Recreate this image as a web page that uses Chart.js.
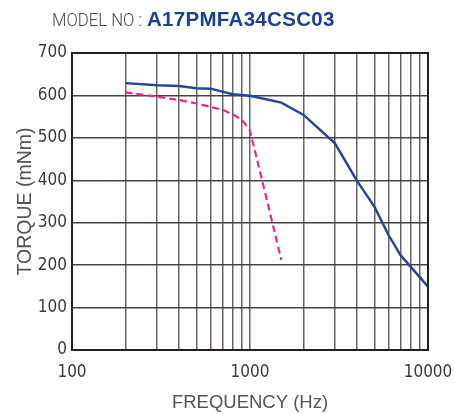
<!DOCTYPE html>
<html>
<head>
<meta charset="utf-8">
<script src="https://cdn.jsdelivr.net/npm/chart.js@4.4.1/dist/chart.umd.min.js"></script>
<style>
  html, body { margin: 0; padding: 0; background: #fff; }
  #wrap { position: relative; width: 455px; height: 414px; }
  #title { position: absolute; left: 52px; top: 7px; white-space: nowrap; }
  #title .lbl { display: inline-block; width: 95px; transform: scaleX(0.88); transform-origin: left center;
                font-family: Roboto, "Liberation Sans", sans-serif; font-weight: 300; font-size: 19px; color: #4a4a4a; }
  #title .model { font-family: "Liberation Sans", Arial, sans-serif; font-weight: bold; font-size: 20.5px;
                  letter-spacing: 0.3px; color: #1d3f96; }
</style>
</head>
<body>
<div id="wrap">
  <div id="title"><span class="lbl">MODEL NO :</span><span class="model">A17PMFA34CSC03</span></div>
  <canvas id="chart" width="455" height="414"></canvas>
</div>
<script>
// frequency (Hz) and torque (mNm)
const pullOutFreq = [200, 300, 400, 500, 600, 800, 1000, 1500, 2000, 3000, 4000, 5000, 6000, 7000, 8000, 10000];
const pullOutTorque = [629, 624, 622, 617, 616, 603, 599, 583, 554, 487, 398, 338, 271, 224, 196, 149];

const pullInFreq = [200, 300, 400, 500, 600, 700, 800, 900, 950, 1000, 1500];
const pullInTorque = [607, 597, 589, 581, 573, 566, 555, 542, 530, 516, 212];

const xTicks = [100, 200, 300, 400, 500, 600, 700, 800, 900,
                1000, 2000, 3000, 4000, 5000, 6000, 7000, 8000, 9000, 10000];
const xLabels = [100, 1000, 10000];

const toPoints = (xs, ys) => xs.map((x, i) => ({ x: x, y: ys[i] }));

const tickFont = { family: "'Liberation Sans Narrow', 'DejaVu Sans Condensed', 'Liberation Sans', sans-serif", size: 17 };

// plot frame drawn on top of the grid
const framePlugin = {
    id: 'frame',
    afterDraw(chart) {
        const a = chart.chartArea;
        const ctx = chart.ctx;
        ctx.save();
        ctx.strokeStyle = '#231f1c';
        ctx.lineWidth = 2;
        ctx.strokeRect(a.left, a.top, a.right - a.left, a.bottom - a.top);
        ctx.restore();
    }
};

new Chart(document.getElementById('chart'), {
    type: 'line',
    plugins: [framePlugin],
    data: {
        datasets: [
            {
                label: 'Pull-out',
                data: toPoints(pullOutFreq, pullOutTorque),
                borderColor: '#2446a0',
                borderWidth: 2.5,
                pointRadius: 0,
                tension: 0,
                fill: false
            },
            {
                label: 'Pull-in',
                data: toPoints(pullInFreq, pullInTorque),
                borderColor: '#e8288c',
                borderWidth: 2.2,
                borderDash: [7, 4],
                pointRadius: 0,
                tension: 0.15,
                fill: false
            }
        ]
    },
    options: {
        responsive: false,
        animation: false,
        layout: { padding: { top: 53, right: 27, bottom: 0, left: 0 } },
        plugins: {
            legend: { display: false },
            tooltip: { enabled: false }
        },
        scales: {
            x: {
                type: 'logarithmic',
                min: 100,
                max: 10000,
                afterBuildTicks: (scale) => { scale.ticks = xTicks.map(v => ({ value: v })); },
                afterFit: (scale) => {
                    scale.height = 64;
                    scale.paddingLeft = 0;
                    scale.paddingRight = 0;
                },
                grid: { color: '#6b6462', lineWidth: 1.5, drawTicks: false },
                border: { display: false },
                ticks: {
                    color: '#3a3a3a',
                    font: tickFont,
                    padding: 12,
                    autoSkip: false,
                    maxRotation: 0,
                    callback: (v) => xLabels.includes(v) ? String(v) : ''
                },
                title: {
                    display: true,
                    text: 'FREQUENCY (Hz)',
                    color: '#555',
                    font: { family: "'Liberation Sans', Arial, sans-serif", size: 18.5 },
                    padding: { top: 0, bottom: 0 }
                }
            },
            y: {
                min: 0,
                max: 700,
                afterFit: (scale) => {
                    scale.width = 72;
                    scale.paddingTop = 0;
                    scale.paddingBottom = 0;
                },
                grid: { color: '#4a4342', lineWidth: 1.5, drawTicks: false },
                border: { display: false },
                ticks: {
                    stepSize: 100,
                    color: '#3a3a3a',
                    font: tickFont,
                    padding: 5
                },
                title: {
                    display: true,
                    text: 'TORQUE (mNm)',
                    color: '#555',
                    font: { family: "'Liberation Sans', Arial, sans-serif", size: 19.5 },
                    padding: { top: 14, bottom: 0 }
                }
            }
        }
    }
});
</script>
</body>
</html>
